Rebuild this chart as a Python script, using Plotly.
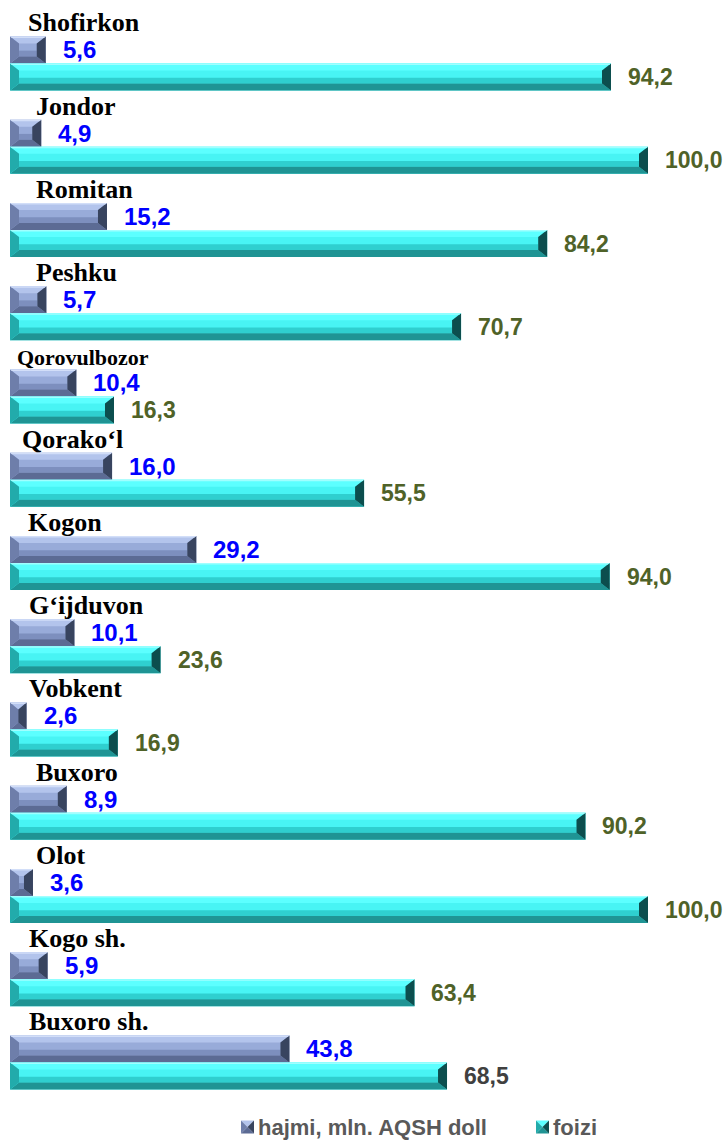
import plotly.graph_objects as go

# Districts, top to bottom
districts = ["Shofirkon", "Jondor", "Romitan", "Peshku", "Qorovulbozor", "Qorako‘l",
             "Kogon", "G‘ijduvon", "Vobkent", "Buxoro", "Olot", "Kogo sh.", "Buxoro sh."]
# Volume, mln. USD
hajmi = [5.6, 4.9, 15.2, 5.7, 10.4, 16.0, 29.2, 10.1, 2.6, 8.9, 3.6, 5.9, 43.8]
# Share, percent
foizi = [94.2, 100.0, 84.2, 70.7, 16.3, 55.5, 94.0, 23.6, 16.9, 90.2, 100.0, 63.4, 68.5]

series_names = ["hajmi, mln. AQSH doll", "foizi"]

# Styling
label_xshift = [17, 25, 25, 25, 6, 11, 17, 18, 18, 25, 25, 18, 18]
label_size = [26, 26, 26, 26, 22, 26, 26, 26, 26, 26, 26, 26, 26]
foizi_label_colors = ["#4F6228"] * 12 + ["#404040"]

W, H = 726, 1142
PX_PER_UNIT_X = 6.38      # horizontal scale, px per percent
PX_PER_UNIT_Y = 83.25     # distance between district rows, px
ORIGIN_PX = 10            # px position of the zero line
FIRST_ROW_PX = 63.5       # px position of the first row's centre

X_RANGE = [-ORIGIN_PX / PX_PER_UNIT_X, (W - ORIGIN_PX) / PX_PER_UNIT_X]
Y_RANGE = [(H - FIRST_ROW_PX) / PX_PER_UNIT_Y, -FIRST_ROW_PX / PX_PER_UNIT_Y]
BAR_W = 0.3245

bx_full = 9 / PX_PER_UNIT_X
by = 7 / PX_PER_UNIT_Y

palettes = {
    "hajmi": dict(upper="#98ABD9", lower="#7D8FBE", light="#D2DEF8", top="#B3C4EC",
                  bottom="#5C6B94", left="#6E7EAA", right="#38445F"),
    "foizi": dict(upper="#48F4F4", lower="#2FCFCF", light="#A0FFFF", top="#5CFFFF",
                  bottom="#1F9494", left="#22ABAB", right="#0C4E4E"),
}

idx = list(range(len(districts)))

fig = go.Figure()
fig.add_trace(go.Bar(
    x=hajmi, y=idx, orientation="h", name=series_names[0],
    offset=-BAR_W, width=BAR_W, marker=dict(color=palettes["hajmi"]["upper"], line=dict(width=0)),
    hovertext=districts, hoverinfo="text+x",
))
fig.add_trace(go.Bar(
    x=foizi, y=idx, orientation="h", name=series_names[1],
    offset=0, width=BAR_W, marker=dict(color=palettes["foizi"]["upper"], line=dict(width=0)),
    hovertext=districts, hoverinfo="text+x",
))


def poly(points):
    return "M " + " L ".join(f"{x:.5f},{y:.5f}" for x, y in points) + " Z"


shapes = []


def add_face(points, color, ref="data"):
    xr, yr = ("x", "y") if ref == "data" else ("paper", "paper")
    shapes.append(dict(type="path", xref=xr, yref=yr, layer="above", line=dict(width=0),
                       fillcolor=color, path=poly(points)))


def bevel(v, y0, y1, pal):
    """Beveled faces of one bar spanning 0..v horizontally and y0..y1 (top..bottom)."""
    bx = min(bx_full, v / 2)
    x0, x1 = 0, v
    yt, yb = y0 + by, y1 - by
    ym = yt + (yb - yt) * 0.55
    # flat face: brighter upper part, darker lower part
    add_face([(x0 + bx, ym), (x1 - bx, ym), (x1 - bx, yb), (x0 + bx, yb)], pal["lower"])
    add_face([(x0, y0), (x1, y0), (x1 - bx, yt), (x0 + bx, yt)], pal["top"])
    add_face([(x0, y1), (x1, y1), (x1 - bx, yb), (x0 + bx, yb)], pal["bottom"])
    add_face([(x0, y0), (x0 + bx, yt), (x0 + bx, yb), (x0, y1)], pal["left"])
    add_face([(x1, y0), (x1 - bx, yt), (x1 - bx, yb), (x1, y1)], pal["right"])
    # thin highlight along the top edge
    add_face([(x0, y0), (x1, y0), (x1 - 0.2 * bx, y0 + 0.2 * by), (x0 + 0.2 * bx, y0 + 0.2 * by)],
             pal["light"])


for i, (h, f) in enumerate(zip(hajmi, foizi)):
    bevel(h, i - BAR_W, i, palettes["hajmi"])
    bevel(f, i, i + BAR_W, palettes["foizi"])


def fmt(v):
    return f"{v:.1f}".replace(".", ",")


annotations = []
for i, name in enumerate(districts):
    annotations.append(dict(
        x=0, y=i - BAR_W, xref="x", yref="y", text=f"<b>{name}</b>", showarrow=False,
        xanchor="left", yanchor="bottom", xshift=label_xshift[i] - 1, yshift=-3,
        font=dict(family="Liberation Serif, Times New Roman, serif", size=label_size[i], color="#000000"),
    ))
    annotations.append(dict(
        x=hajmi[i], y=i - BAR_W / 2, xref="x", yref="y", text=f"<b>{fmt(hajmi[i])}</b>",
        showarrow=False, xanchor="left", yanchor="middle", xshift=15,
        font=dict(family="Liberation Sans, Arial, sans-serif", size=24, color="#0000FF"),
    ))
    annotations.append(dict(
        x=foizi[i], y=i + BAR_W / 2, xref="x", yref="y", text=f"<b>{fmt(foizi[i])}</b>",
        showarrow=False, xanchor="left", yanchor="middle", xshift=15,
        font=dict(family="Liberation Sans, Arial, sans-serif", size=23, color=foizi_label_colors[i]),
    ))

# Legend below the bars: pyramid-style key squares followed by the series names
legend_items = [(241, "hajmi"), (536, "foizi")]
LEG_Y, KEY = 1127, 13
for (kx, key), name in zip(legend_items, series_names):
    pal = palettes[key]
    l, r = kx / W, (kx + KEY) / W
    t, b = 1 - (LEG_Y - KEY / 2) / H, 1 - (LEG_Y + KEY / 2) / H
    cx, cy = (l + r) / 2, (t + b) / 2
    add_face([(l, t), (r, t), (cx, cy)], pal["top"], ref="paper")
    add_face([(l, t), (l, b), (cx, cy)], pal["left"], ref="paper")
    add_face([(l, b), (r, b), (cx, cy)], pal["bottom"], ref="paper")
    add_face([(r, t), (r, b), (cx, cy)], pal["right"], ref="paper")
    annotations.append(dict(
        x=(kx + KEY + 3) / W, y=1 - LEG_Y / H, xref="paper", yref="paper",
        text=f"<b>{name}</b>", showarrow=False, xanchor="left", yanchor="middle",
        borderpad=0,
        font=dict(family="Liberation Sans, Arial, sans-serif", size=22, color="#595959"),
    ))

fig.update_layout(
    width=W, height=H,
    margin=dict(l=0, r=0, t=0, b=0),
    paper_bgcolor="white", plot_bgcolor="white",
    barmode="overlay",
    xaxis=dict(range=X_RANGE, visible=False, fixedrange=True),
    yaxis=dict(range=Y_RANGE, visible=False, fixedrange=True),
    shapes=shapes,
    annotations=annotations,
    showlegend=False,
)

fig.write_html("out.html")
